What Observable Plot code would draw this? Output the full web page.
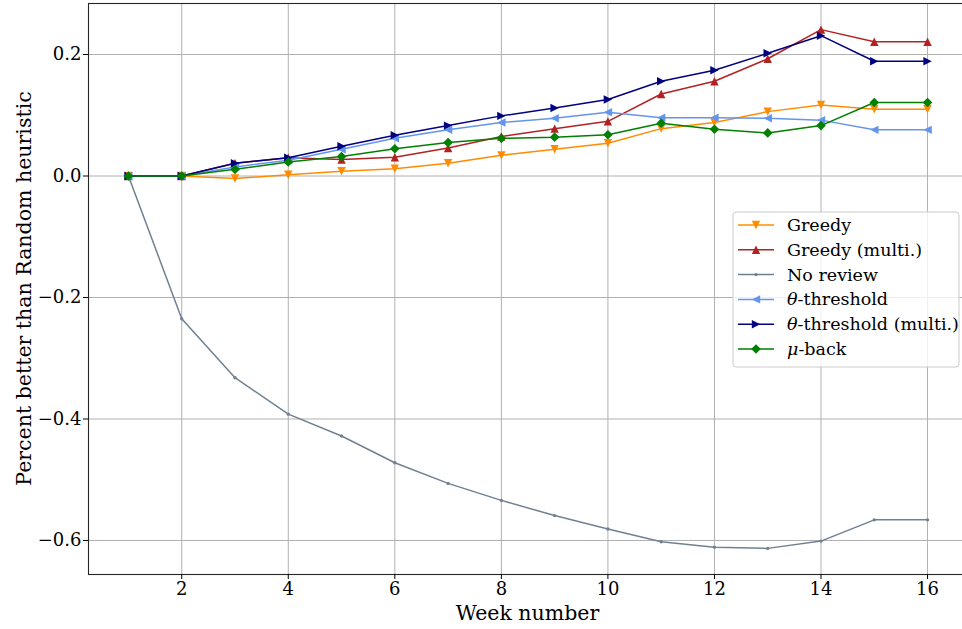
<!DOCTYPE html>
<html>
<head>
<meta charset="utf-8">
<script src="https://cdn.jsdelivr.net/npm/d3@7"></script>
<script src="https://cdn.jsdelivr.net/npm/@observablehq/plot@0.6"></script>
<style>
  html, body { margin: 0; padding: 0; background: #fff; overflow: hidden; }
  #chart { width: 962px; height: 629px; overflow: hidden; }
  #chart svg { max-width: none !important; }
</style>
</head>
<body>
<div id="chart"></div>
<script>
// ---- data ----
const weeks = [1, 2, 3, 4, 5, 6, 7, 8, 9, 10, 11, 12, 13, 14, 15, 16];
const greedy      = [0, 0, -0.004, 0.002, 0.008, 0.012, 0.021, 0.034, 0.044, 0.054, 0.078, 0.088, 0.106, 0.117, 0.110, 0.110];
const greedyMulti = [0, 0, 0.021, 0.030, 0.027, 0.031, 0.046, 0.065, 0.078, 0.090, 0.135, 0.156, 0.193, 0.241, 0.221, 0.221];
const noReview    = [0, -0.235, -0.332, -0.392, -0.428, -0.472, -0.506, -0.534, -0.559, -0.581, -0.602, -0.611, -0.613, -0.601, -0.566, -0.566];
const theta       = [0, 0, 0.015, 0.026, 0.044, 0.062, 0.076, 0.088, 0.095, 0.105, 0.096, 0.096, 0.095, 0.092, 0.076, 0.076];
const thetaMulti  = [0, 0, 0.021, 0.030, 0.049, 0.067, 0.083, 0.099, 0.112, 0.126, 0.156, 0.174, 0.202, 0.231, 0.189, 0.189];
const muBack      = [0, 0, 0.011, 0.023, 0.032, 0.045, 0.055, 0.062, 0.064, 0.068, 0.087, 0.077, 0.071, 0.083, 0.121, 0.121];

const seriesNames = ["Greedy", "Greedy (multi.)", "No review", "θ-threshold", "θ-threshold (multi.)", "μ-back"];
const seriesValues = [greedy, greedyMulti, noReview, theta, thetaMulti, muBack];
const seriesColors = ["#ff8c00", "#b22222", "#708090", "#6495ed", "#000080", "#008000"];

const xTicks = [2, 4, 6, 8, 10, 12, 14, 16];
const yTicks = [-0.6, -0.4, -0.2, 0.0, 0.2];
const xLabel = "Week number";
const yLabel = "Percent better than Random heuristic";

// ---- marker shapes (matplotlib-like) ----
const rad = size => Math.sqrt(size / Math.PI);
const triDown  = {draw(c, s) { const r = rad(s); c.moveTo(0, r); c.lineTo(-r, -r); c.lineTo(r, -r); c.closePath(); }};
const triUp    = {draw(c, s) { const r = rad(s); c.moveTo(0, -r); c.lineTo(-r, r); c.lineTo(r, r); c.closePath(); }};
const triLeft  = {draw(c, s) { const r = rad(s); c.moveTo(-r, 0); c.lineTo(r, -r); c.lineTo(r, r); c.closePath(); }};
const triRight = {draw(c, s) { const r = rad(s); c.moveTo(r, 0); c.lineTo(-r, -r); c.lineTo(-r, r); c.closePath(); }};
const diamond  = {draw(c, s) { const r = rad(s); c.moveTo(0, -r); c.lineTo(r, 0); c.lineTo(0, r); c.lineTo(-r, 0); c.closePath(); }};
const point    = {draw(c, s) { const r = rad(s); c.moveTo(r, 0); c.arc(0, 0, r, 0, 2 * Math.PI); }};
const seriesSymbols = [triDown, triUp, point, triLeft, triRight, diamond];
const seriesRadius = [4.2, 4.2, 1.7, 4.2, 4.2, 4.8];

const series = seriesNames.map((name, i) => ({
  name, color: seriesColors[i], symbol: seriesSymbols[i], r: seriesRadius[i],
  data: weeks.map((w, j) => ({week: w, value: seriesValues[i][j]}))
}));

const W = 968, H = 629;
const plot = Plot.plot({
  width: W,
  height: H,
  marginLeft: 88,
  marginRight: 1,
  marginTop: 3,
  marginBottom: 55,
  style: {fontFamily: "'DejaVu Serif', serif", fontSize: "18px", background: "#fff", color: "#000", overflow: "visible", maxWidth: "none"},
  x: {domain: [0.25, 16.75], label: null},
  y: {domain: [-0.656, 0.284], label: null},
  marks: [
    Plot.gridX({ticks: xTicks, stroke: "#b0b0b0", strokeOpacity: 1, strokeWidth: 1}),
    Plot.gridY({ticks: yTicks, stroke: "#b0b0b0", strokeOpacity: 1, strokeWidth: 1}),
    ...series.flatMap(s => [
      Plot.line(s.data, {x: "week", y: "value", stroke: s.color, strokeWidth: 1.5}),
      Plot.dot(s.data, {x: "week", y: "value", symbol: s.symbol, r: s.r, fill: s.color, stroke: "none"})
    ]),
    Plot.frame({stroke: "#262626", strokeWidth: 1.1}),
    Plot.axisX({ticks: xTicks, tickSize: 5, tickPadding: 3, label: null, tickFormat: d3.format("d")}),
    Plot.axisY({ticks: yTicks, tickSize: 5, tickPadding: 2, label: null, tickFormat: d3.format(".1f")})
  ]
});
plot.style.maxWidth = "none";
plot.setAttribute("width", W);
document.getElementById("chart").appendChild(plot);

// ---- axis titles & legend ----
const svg = d3.select(plot);
svg.append("text")
  .attr("x", 527.5).attr("y", 620)
  .attr("text-anchor", "middle")
  .style("font-size", "20.5px")
  .attr("fill", "#000")
  .text(xLabel);
svg.append("text")
  .attr("transform", "translate(24,288.5) rotate(-90)")
  .attr("text-anchor", "middle")
  .attr("dominant-baseline", "central")
  .style("font-size", "20.5px")
  .attr("fill", "#000")
  .text(yLabel);

const lg = svg.append("g").attr("class", "legend").attr("text-anchor", "start");
lg.append("rect")
  .attr("x", 733).attr("y", 212).attr("width", 226).attr("height", 155)
  .attr("rx", 3).attr("ry", 3)
  .attr("fill", "#fff").attr("fill-opacity", 0.8)
  .attr("stroke", "#cccccc").attr("stroke-width", 1);
series.forEach((s, i) => {
  const cy = 225 + i * 24.8;
  lg.append("line").attr("x1", 738).attr("x2", 774).attr("y1", cy).attr("y2", cy)
    .attr("stroke", s.color).attr("stroke-width", 1.5);
  lg.append("path")
    .attr("transform", `translate(756,${cy})`)
    .attr("d", d3.symbol(s.symbol, s.r * s.r * Math.PI)())
    .attr("fill", s.color);
  const t = lg.append("text").attr("x", 787).attr("y", cy)
    .attr("text-anchor", "start")
    .attr("dominant-baseline", "central")
    .style("font-size", "17.5px").attr("fill", "#000");
  const first = s.name[0];
  if (first === "θ" || first === "μ") {
    t.append("tspan").attr("font-style", "italic").text(first);
    t.append("tspan").text(s.name.slice(1));
  } else {
    t.text(s.name);
  }
});
</script>
</body>
</html>
